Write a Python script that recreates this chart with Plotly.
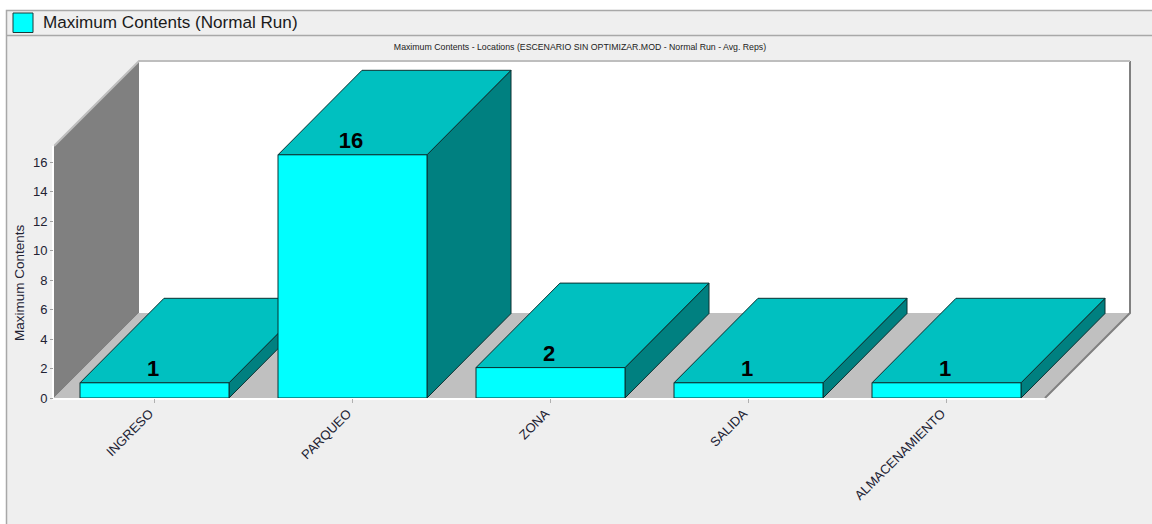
import plotly.graph_objects as go

# ---- data ----
categories = ["INGRESO", "PARQUEO", "ZONA", "SALIDA", "ALMACENAMIENTO"]
values = [1, 16, 2, 1, 1]
value_labels = ["1", "16", "2", "1", "1"]
axis_ticks = [0, 2, 4, 6, 8, 10, 12, 14, 16]
legend_name = "Maximum Contents (Normal Run)"
chart_title = "Maximum Contents - Locations (ESCENARIO SIN OPTIMIZAR.MOD - Normal Run - Avg. Reps)"
y_title = "Maximum Contents"

# ---- pseudo-3D geometry (figure pixels -> axis units) ----
W, H = 1152, 524
PLOT_L, PLOT_R, PLOT_T, PLOT_B = 54, 1136, 55, 398
PX_PER_CAT = 198.0
FIRST_CENTER_PX = 154.5
PX_PER_VAL = 15.2           # scale of the bars
PX_PER_TICK = 14.72         # scale of the printed axis
BAR_W = 149 / PX_PER_CAT
BAR_DX = 84 / PX_PER_CAT
BAR_DY = 84.5 / PX_PER_VAL
FLOOR_DX = 85 / PX_PER_CAT
FLOOR_DY = 85 / PX_PER_VAL
LABEL_DX = -1.5 / PX_PER_CAT
LABEL_DY = 1 / PX_PER_VAL

x0 = (PLOT_L - FIRST_CENTER_PX) / PX_PER_CAT
x1 = (PLOT_R - FIRST_CENTER_PX) / PX_PER_CAT
floor_end = (1045 - FIRST_CENTER_PX) / PX_PER_CAT
y_top = (PLOT_B - PLOT_T) / PX_PER_VAL
y2_top = (PLOT_B - PLOT_T) / PX_PER_TICK
wall_h = (PLOT_B - 146) / PX_PER_VAL

FRONT, TOP, SIDE, EDGE = "#00FFFF", "#00C0C0", "#008080", "#0A3030"
BG = "#EFEFEF"


def px(p):
    """figure pixel x -> paper fraction of the plot area"""
    return (p - PLOT_L) / (PLOT_R - PLOT_L)


def py(p):
    """figure pixel y -> paper fraction of the plot area"""
    return (PLOT_B - p) / (PLOT_B - PLOT_T)


def poly(xs, ys, color):
    return go.Scatter(x=xs + xs[:1], y=ys + ys[:1], mode="lines", fill="toself",
                      fillcolor=color, line=dict(color=EDGE, width=1),
                      hoverinfo="skip", showlegend=False)


fig = go.Figure()

# carries the printed axis
fig.add_trace(go.Scatter(x=[0], y=[0], yaxis="y2", mode="none", hoverinfo="skip", showlegend=False))

for i, v in enumerate(values):
    l, r = i - BAR_W / 2, i + BAR_W / 2
    fig.add_trace(poly([r, r + BAR_DX, r + BAR_DX, r], [0, BAR_DY, v + BAR_DY, v], SIDE))
    fig.add_trace(poly([l, r, r + BAR_DX, l + BAR_DX], [v, v, v + BAR_DY, v + BAR_DY], TOP))
    fig.add_trace(poly([l, r, r, l], [0, 0, v, v], FRONT))

fig.add_trace(go.Scatter(x=[i + LABEL_DX for i in range(len(values))],
                         y=[v + LABEL_DY for v in values], mode="text",
                         text=value_labels, textposition="top center",
                         textfont=dict(family="Liberation Sans", size=22, color="#000000"),
                         texttemplate="<b>%{text}</b>", hoverinfo="skip", showlegend=False))

back_l, back_r = x0 + FLOOR_DX, floor_end + FLOOR_DX
shapes = [
    # window panels
    dict(type="rect", xref="paper", yref="paper", x0=px(6.5), x1=px(1160), y0=py(530), y1=py(10.5),
         fillcolor=BG, line=dict(color="#A8A8A8", width=1.5), layer="below"),
    dict(type="line", xref="paper", yref="paper", x0=px(6.5), x1=px(1152), y0=py(35.5), y1=py(35.5),
         line=dict(color="#A8A8A8", width=1.5), layer="below"),
    dict(type="rect", xref="paper", yref="paper", x0=px(13), x1=px(33), y0=py(32.5), y1=py(13),
         fillcolor=FRONT, line=dict(color="#1A3A3A", width=1), layer="below"),
    # white axis strips
    dict(type="rect", xref="paper", yref="paper", x0=px(52), x1=px(54), y0=py(400), y1=py(146),
         fillcolor="#FFFFFF", line=dict(width=0), layer="below"),
    dict(type="rect", xref="paper", yref="paper", x0=px(52), x1=px(1045), y0=py(400), y1=py(398),
         fillcolor="#FFFFFF", line=dict(width=0), layer="below"),
    # back wall, left wall, floor
    dict(type="path", xref="x", yref="y", layer="below", line=dict(width=0), fillcolor="#FFFFFF",
         path=f"M{back_l},{FLOOR_DY} L{back_r},{FLOOR_DY} L{back_r},{wall_h + FLOOR_DY} L{back_l},{wall_h + FLOOR_DY} Z"),
    dict(type="path", xref="x", yref="y", layer="below", line=dict(width=0), fillcolor="#808080",
         path=f"M{x0},0 L{back_l},{FLOOR_DY} L{back_l},{wall_h + FLOOR_DY} L{x0},{wall_h} Z"),
    dict(type="path", xref="x", yref="y", layer="below", line=dict(width=0), fillcolor="#C0C0C0",
         path=f"M{x0},0 L{floor_end},0 L{back_r},{FLOOR_DY} L{back_l},{FLOOR_DY} Z"),
    # wall edges
    dict(type="path", xref="x", yref="y", layer="below", line=dict(color="#808080", width=2),
         path=f"M{back_r},{wall_h + FLOOR_DY} L{back_r},{FLOOR_DY} L{floor_end},0"),
    dict(type="path", xref="x", yref="y", layer="below", line=dict(color="#BEBEBE", width=2),
         path=f"M{x0},{wall_h} L{back_l},{wall_h + FLOOR_DY} L{back_r},{wall_h + FLOOR_DY}"),
]

annotations = [
    dict(text=legend_name, xref="paper", yref="paper", x=px(43), y=py(22.5), xanchor="left",
         yanchor="middle", xshift=-2, showarrow=False,
         font=dict(family="Liberation Sans", size=17.1, color="#1A1A1A")),
    dict(text=y_title, xref="paper", yref="paper", x=px(19), y=py(283), xanchor="center",
         yanchor="middle", textangle=-90, showarrow=False,
         font=dict(family="Liberation Sans", size=13.5, color="#222233")),
]

fig.update_layout(
    width=W, height=H, autosize=False,
    margin=dict(l=PLOT_L, r=W - PLOT_R, t=PLOT_T, b=H - PLOT_B, pad=0),
    paper_bgcolor="#FFFFFF", plot_bgcolor="rgba(0,0,0,0)",
    showlegend=False, shapes=shapes, annotations=annotations,
    title=dict(text=chart_title, x=580 / W, xanchor="center", y=1 - 47 / H, yanchor="middle",
               font=dict(family="Liberation Sans", size=8.75, color="#222222")),
    xaxis=dict(range=[x0, x1], tickmode="array", tickvals=list(range(len(categories))),
               ticktext=categories, tickangle=-45, showgrid=False, zeroline=False, showline=False,
               ticks="outside", ticklen=4, tickcolor="#B0B0B0", tickwidth=1,
               ticklabelshift=-5, ticklabelstandoff=-2,
               tickfont=dict(family="Liberation Sans", size=13, color="#222233"), fixedrange=True),
    yaxis=dict(range=[0, y_top], showticklabels=False, ticks="", showgrid=False,
               zeroline=False, showline=False, fixedrange=True),
    yaxis2=dict(range=[0, y2_top], overlaying="y", side="left", tickmode="array", tickvals=axis_ticks,
                showgrid=False, zeroline=False, showline=False, ticks="outside", ticklen=3,
                tickcolor="#A0A0A0", tickwidth=1,
                tickfont=dict(family="Liberation Sans", size=13, color="#222233"), fixedrange=True),
)

fig.write_html("out.html", config={"displayModeBar": False},
               post_script="document.body.style.margin='0';")
